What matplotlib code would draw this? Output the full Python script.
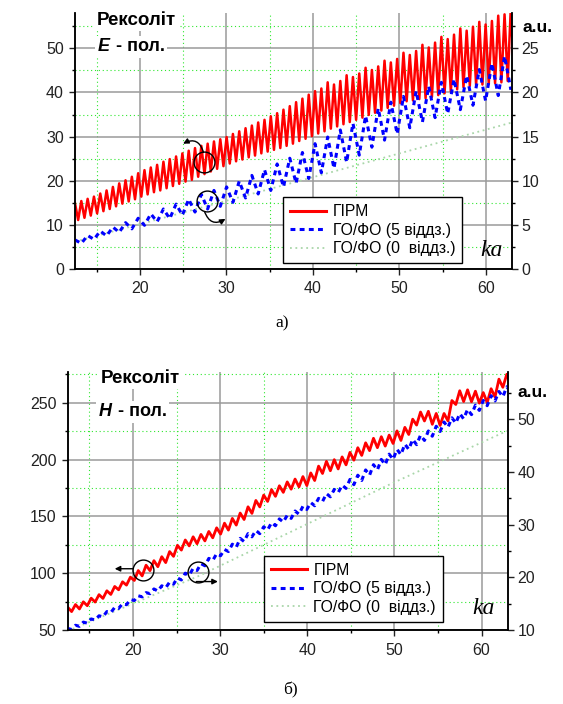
import numpy as np
import matplotlib
matplotlib.use('Agg')
import matplotlib.pyplot as plt
from matplotlib.lines import Line2D
from matplotlib.ticker import MultipleLocator

plt.rcParams['font.family'] = ['Liberation Sans', 'DejaVu Sans']

# ---------- а) E-поляризація ----------
# ГІРМ: максимуми/мінімуми осциляцій, крок по ka 0.365 від 12.5 (ліва вісь)
girm_e = [
    14.9, 11.1, 15.4, 11.6, 15.9, 12.1, 16.4, 12.6, 17.1, 13.1,
    17.8, 13.6, 18.6, 14.2, 19.4, 14.8, 20.1, 15.3, 20.9, 15.8,
    21.7, 16.4, 22.4, 16.9, 23.0, 17.4, 23.6, 17.8, 24.3, 18.3,
    24.9, 18.8, 25.5, 19.3, 26.2, 19.8, 26.8, 20.2, 27.4, 20.9,
    27.9, 21.5, 28.4, 22.1, 28.9, 22.7, 29.4, 23.3, 29.9, 23.9,
    30.6, 24.4, 31.2, 24.8, 31.9, 25.3, 32.5, 25.7, 33.2, 26.2,
    33.8, 26.6, 34.6, 27.0, 35.3, 27.4, 36.1, 27.9, 36.9, 28.4,
    37.8, 29.0, 38.6, 29.5, 39.5, 30.1, 40.3, 30.7, 40.9, 31.2,
    42.3, 31.8, 41.8, 32.3, 42.6, 32.8, 43.9, 33.3, 43.5, 33.8,
    44.3, 34.3, 45.6, 34.9, 45.1, 35.4, 45.9, 35.9, 47.2, 36.5,
    46.8, 37.0, 47.6, 37.6, 49.0, 38.0, 48.5, 38.2, 49.4, 38.5,
    50.8, 38.7, 50.2, 39.0, 51.3, 39.4, 52.6, 39.8, 52.1, 40.2,
    53.1, 40.7, 54.5, 41.2, 54.0, 41.5, 54.9, 41.7, 56.0, 41.8,
    55.4, 42.0, 56.2, 42.1, 57.4, 42.3, 57.7, 42.6, 59.5, 43.0,
]
# ГО/ФО (5 віддз.), крок 0.73 від 12.5 (права вісь, a.u.)
go5_e = [
    3.3, 2.9, 3.8, 3.35, 4.3, 3.75, 4.75, 4.15, 5.25, 4.55,
    5.75, 4.95, 6.25, 5.35, 6.8, 5.7, 7.35, 6.1, 7.9, 6.45,
    8.45, 6.8, 8.9, 7.1, 9.3, 7.55, 9.95, 8.05, 10.6, 8.5,
    11.25, 8.9, 11.9, 9.3, 12.55, 9.7, 13.2, 10.25, 14.2, 10.9,
    14.95, 11.4, 15.75, 12.1, 16.5, 12.9, 17.35, 13.8, 18.2, 14.6,
    18.9, 15.3, 19.55, 16.0, 20.15, 16.65, 20.7, 17.15, 21.15, 17.6,
    21.5, 18.05, 21.9, 18.55, 22.6, 19.05, 23.3, 19.65, 24.1, 20.3,
]
go0_e_ka = [12.5, 25, 40, 63]
go0_e = [3.1, 6.4, 10.4, 16.6]

# ---------- б) H-поляризація ----------
# ГІРМ, крок 0.45 від 12.5 (ліва вісь)
girm_h = [
    70.1, 66.2, 72.4, 68.5, 74.8, 71.4, 78.0, 74.6, 81.1, 77.8,
    84.5, 81.3, 88.3, 85.4, 92.4, 89.5, 96.5, 93.6, 102.3, 97.6,
    107.0, 102.2, 111.0, 105.7, 114.5, 109.3, 119.0, 114.8, 124.5, 120.3,
    129.2, 124.0, 132.0, 125.9, 134.1, 128.4, 136.7, 131.1, 139.9, 134.4,
    144.0, 137.9, 148.2, 142.3, 152.9, 147.2, 158.4, 152.6, 164.0, 158.3,
    168.7, 163.1, 173.5, 167.6, 176.9, 171.1, 180.3, 173.9, 182.8, 175.9,
    185.0, 177.1, 188.2, 181.5, 194.2, 187.7, 198.4, 190.1, 199.9, 191.7,
    202.3, 195.3, 206.3, 199.4, 210.4, 203.6, 214.7, 207.8, 218.7, 210.4,
    220.1, 211.8, 221.5, 214.1, 225.2, 216.8, 228.3, 222.0, 235.5, 230.3,
    241.8, 233.9, 242.4, 231.0, 240.5, 230.0, 240.5, 234.0, 251.9, 248.4,
    260.5, 251.0, 261.3, 250.8, 260.1, 249.6, 258.9, 250.0, 262.3, 255.0,
    270.7, 263.5, 275.0, 267.0,
]
# ГО/ФО (5 віддз.), крок 0.45 від 12.5 (права вісь)
go5_h = [
    10.3, 10.1, 10.9, 10.7, 11.5, 11.3, 12.1, 11.9, 12.7, 12.5,
    13.5, 13.3, 14.3, 14.1, 15.0, 14.8, 15.8, 15.6, 16.5, 16.3,
    17.1, 16.9, 17.8, 17.4, 18.4, 18.0, 19.1, 18.7, 19.9, 19.5,
    20.8, 20.4, 21.7, 21.3, 22.6, 22.2, 23.6, 23.2, 24.5, 24.1,
    25.3, 24.9, 26.3, 25.7, 27.4, 26.8, 28.3, 27.7, 28.9, 28.3,
    29.6, 29.0, 30.4, 29.8, 31.1, 30.5, 31.8, 31.2, 32.6, 32.0,
    33.5, 32.9, 34.2, 33.6, 35.0, 34.4, 35.9, 35.3, 36.7, 36.1,
    37.5, 36.9, 38.6, 37.6, 39.4, 38.4, 40.4, 39.4, 41.4, 40.4,
    42.4, 41.4, 43.4, 42.4, 44.3, 43.3, 45.3, 44.3, 46.2, 45.2,
    47.0, 46.0, 47.8, 46.8, 48.7, 47.7, 49.5, 48.5, 50.3, 49.3,
    51.1, 50.1, 51.9, 50.9, 52.7, 51.7, 53.6, 52.6, 54.5, 53.5,
    55.3, 54.3, 56.2, 55.2,
]
go0_h_ka = [12.5, 27.6, 49.4, 62.9]
go0_h = [9.8, 20.3, 37.6, 47.8]

labels = ['ГІРМ', 'ГО/ФО (5 віддз.)', 'ГО/ФО (0  віддз.)']

RED = '#ff0000'
BLUE = '#0000ff'
PALE = '#a9d6a9'
BLUE_LS = (0, (1.6, 1.4))
PALE_LS = (0, (1, 2))


def style(ax1, ax2, yl1, ym1, yl2, ym2):
    ax1.set_xlim(12.5, 63)
    ax1.set_ylim(*yl1)
    ax2.set_ylim(*yl2)
    ax1.xaxis.set_major_locator(MultipleLocator(10))
    ax1.xaxis.set_minor_locator(MultipleLocator(5))
    ax1.yaxis.set_major_locator(MultipleLocator(ym1))
    ax1.yaxis.set_minor_locator(MultipleLocator(ym1 / 2))
    ax2.yaxis.set_major_locator(MultipleLocator(ym2))
    ax2.yaxis.set_minor_locator(MultipleLocator(ym2 / 2))
    ax1.grid(which='major', color='#9a9a9a', lw=1.1)
    ax1.grid(which='minor', color='#2fe82f', lw=0.8, ls=(0, (1, 2.5)))
    ax1.set_axisbelow(True)
    for ax in (ax1, ax2):
        ax.spines['top'].set_visible(False)
        for s in ('left', 'right', 'bottom'):
            ax.spines[s].set_linewidth(1.1)
        ax.tick_params(which='major', direction='out', length=4, width=1,
                       labelsize=11.5, colors='#222222')
        ax.tick_params(which='minor', direction='out', length=2.5, width=1)
    ax1.tick_params(axis='y', pad=4)
    ax1.tick_params(axis='x', pad=5)
    ax2.tick_params(axis='y', pad=3)


def handles():
    return [Line2D([], [], color=RED, lw=2.2),
            Line2D([], [], color=BLUE, lw=2.2, ls=BLUE_LS),
            Line2D([], [], color=PALE, lw=1.3, ls=PALE_LS)]


def head(ax2, pol, x_pol, y_pol, x_title, y_title):
    box = dict(fc='white', ec='none', pad=2)
    ax2.text(x_title, y_title, 'Рексоліт', transform=ax2.transAxes, ha='center',
             va='center', fontsize=13.5, fontweight='bold', bbox=box, zorder=5)
    ax2.text(x_pol, y_pol, pol, transform=ax2.transAxes, ha='right', va='center',
             fontsize=13, fontweight='bold', fontstyle='italic', bbox=box, zorder=5)
    ax2.text(x_pol + 0.013, y_pol, '- пол.', transform=ax2.transAxes, ha='left',
             va='center', fontsize=13, fontweight='bold', bbox=box, zorder=5)


fig = plt.figure(figsize=(5.63, 7.04), dpi=100)

# ---------- панель а) ----------
a1 = fig.add_axes([0.1332, 0.6179, 0.7762, 0.3636])
a2 = a1.twinx()
ka_girm_e = 12.5 + 0.365 * np.arange(len(girm_e))
ka_go5_e = 12.5 + 0.73 * np.arange(len(go5_e))
a1.plot(ka_girm_e, girm_e, color=RED, lw=1.8, solid_joinstyle='round')
a2.plot(go0_e_ka, go0_e, color=PALE, lw=1.3, ls=PALE_LS)
a2.plot(ka_go5_e, go5_e, color=BLUE, lw=2.2, ls=BLUE_LS)
style(a1, a2, (0, 58), 10, (0, 29), 5)
head(a2, 'E', 0.0801, 0.8684, 0.1407, 0.9727)
a2.text(1.025, 0.945, 'a.u.', transform=a2.transAxes, ha='left', va='center',
        fontsize=12.5, fontweight='bold')
a2.text(0.952, 0.074, 'ka', transform=a2.transAxes, ha='center', va='center',
        fontsize=17, fontstyle='italic', family='Liberation Serif')
leg = a2.legend(handles(), labels, loc='lower left', bbox_to_anchor=(0.4764, 0.0223),
                borderaxespad=0, fancybox=False, edgecolor='black', framealpha=1,
                fontsize=11.3, handlelength=2.3, handletextpad=0.4, labelspacing=0.22,
                borderpad=0.45)
leg.get_frame().set_linewidth(1.0)
a1.plot(27.4, 24.2, 'o', ms=15, mfc='none', mec='black', mew=1)
a1.annotate('', xy=(24.99, 28.4), xytext=(27.35, 26.4),
            arrowprops=dict(arrowstyle='-|>', color='black', lw=1, mutation_scale=8,
                            shrinkA=0, shrinkB=0, connectionstyle='arc3,rad=0.6'))
a2.plot(27.8, 7.76, 'o', ms=15, mfc='none', mec='black', mew=1)
a2.annotate('', xy=(29.89, 5.68), xytext=(27.47, 6.51),
            arrowprops=dict(arrowstyle='-|>', color='black', lw=1, mutation_scale=8,
                            shrinkA=0, shrinkB=0, connectionstyle='arc3,rad=0.6'))

# ---------- панель б) ----------
b1 = fig.add_axes([0.1202, 0.1051, 0.7815, 0.3665])
b2 = b1.twinx()
ka_girm_h = 12.5 + 0.45 * np.arange(len(girm_h))
ka_go5_h = 12.5 + 0.45 * np.arange(len(go5_h))
b1.plot(ka_girm_h, girm_h, color=RED, lw=2.0, solid_joinstyle='round')
b2.plot(go0_h_ka, go0_h, color=PALE, lw=1.3, ls=PALE_LS)
b2.plot(ka_go5_h, go5_h, color=BLUE, lw=2.2, ls=BLUE_LS)
style(b1, b2, (50, 277), 50, (10, 59), 10)
head(b2, 'H', 0.1007, 0.846, 0.1655, 0.9767)
b2.text(1.023, 0.919, 'a.u.', transform=b2.transAxes, ha='left', va='center',
        fontsize=12.5, fontweight='bold')
b2.text(0.945, 0.085, 'ka', transform=b2.transAxes, ha='center', va='center',
        fontsize=17, fontstyle='italic', family='Liberation Serif')
leg = b2.legend(handles(), labels, loc='lower left', bbox_to_anchor=(0.4462, 0.0322),
                borderaxespad=0, fancybox=False, edgecolor='black', framealpha=1,
                fontsize=11.3, handlelength=2.3, handletextpad=0.4, labelspacing=0.22,
                borderpad=0.45)
leg.get_frame().set_linewidth(1.0)
b1.plot(21.19, 102.7, 'o', ms=15, mfc='none', mec='black', mew=1)
b1.annotate('', xy=(17.9, 103.9), xytext=(20.0, 103.9),
            arrowprops=dict(arrowstyle='-|>', color='black', lw=1, mutation_scale=8,
                            shrinkA=0, shrinkB=0))
b2.plot(27.41, 21.1, 'o', ms=15, mfc='none', mec='black', mew=1)
b2.annotate('', xy=(29.74, 19.2), xytext=(27.26, 19.2),
            arrowprops=dict(arrowstyle='-|>', color='black', lw=1, mutation_scale=8,
                            shrinkA=0, shrinkB=0))

fig.text(0.501, 0.541, 'а)', ha='center', va='center', fontsize=12.5,
         family='Liberation Serif')
fig.text(0.515, 0.020, 'б)', ha='center', va='center', fontsize=12.5,
         family='Liberation Serif')

fig.savefig('out.png', dpi=100)
